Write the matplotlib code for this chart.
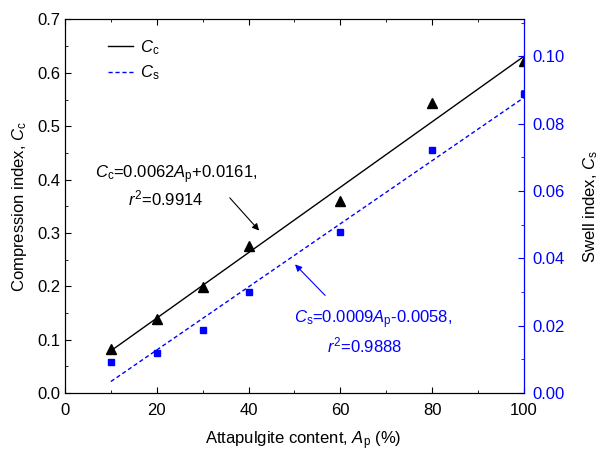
import matplotlib
matplotlib.use("Agg")
import matplotlib.pyplot as plt
from matplotlib.ticker import MultipleLocator

plt.rcParams['font.family'] = ['Liberation Sans', 'DejaVu Sans']
plt.rcParams['font.size'] = 12
plt.rcParams['mathtext.fontset'] = 'custom'
plt.rcParams['mathtext.rm'] = 'Liberation Sans'
plt.rcParams['mathtext.it'] = 'Liberation Sans:italic'

# Data
content = [10, 20, 30, 40, 60, 80, 100]
cc = [0.083, 0.139, 0.199, 0.275, 0.360, 0.544, 0.623]
cs = [0.0092, 0.0120, 0.0187, 0.0300, 0.0478, 0.0723, 0.0888]

# fitted line end points
fit_x = [10, 100]
cc_fit = [0.079, 0.631]
cs_fit = [0.0034, 0.0878]

blue = '#0000FF'

fig, ax = plt.subplots(figsize=(6, 4.53), dpi=100)
fig.subplots_adjust(left=0.1083, right=0.8733, bottom=0.1325, top=0.957)
ax2 = ax.twinx()

ax.plot(fit_x, cc_fit, color='black', lw=1, label=r'$C_\mathrm{c}$')
ax.plot(content, cc, ls='none', marker='^', ms=7, color='black')
ax2.plot(fit_x, cs_fit, color=blue, lw=1, ls=(0, (3, 2)), label=r'$C_\mathrm{s}$')
ax2.plot(content, cs, ls='none', marker='s', ms=5, color=blue)

ax.set_xlim(0, 100)
ax.set_ylim(0, 0.7)
ax2.set_ylim(0, 0.111)

ax.xaxis.set_major_locator(MultipleLocator(20))
ax.xaxis.set_minor_locator(MultipleLocator(10))
ax.yaxis.set_major_locator(MultipleLocator(0.1))
ax.yaxis.set_minor_locator(MultipleLocator(0.05))
ax2.yaxis.set_major_locator(MultipleLocator(0.02))
ax2.yaxis.set_minor_locator(MultipleLocator(0.01))

ax.tick_params(which='both', direction='in', top=True, right=False)
ax.tick_params(which='major', length=4, labelsize=12)
ax.tick_params(axis='x', which='major', pad=7)
ax.tick_params(which='minor', length=2.5)
ax2.tick_params(which='both', direction='in', colors=blue)
ax2.tick_params(which='major', length=4, labelsize=12, pad=6)
ax2.tick_params(which='minor', length=2.5)
ax2.spines['right'].set_color(blue)

ax.set_xlabel(r'Attapulgite content, $A_\mathrm{p}$ (%)')
ax.set_ylabel(r'Compression index, $C_\mathrm{c}$')
ax2.set_ylabel(r'Swell index, $C_\mathrm{s}$', rotation=90, color='black')
ax.xaxis.set_label_coords(0.52, -0.098)
ax.yaxis.set_label_coords(-0.078, 0.5)
ax2.yaxis.set_label_coords(1.125, 0.5)

h1, l1 = ax.get_legend_handles_labels()
h2, l2 = ax2.get_legend_handles_labels()
ax.legend(h1 + h2, l1 + l2, loc='upper left', bbox_to_anchor=(0.06, 0.99),
          frameon=False, handlelength=1.5, handletextpad=0.45, labelspacing=0.4,
          fontsize=12)

# equations and arrows
ax.text(6.5, 0.403, r'$C_\mathrm{c}$=0.0062$A_\mathrm{p}$+0.0161,', ha='left', va='baseline')
ax.text(13.7, 0.351, r'$r^2$=0.9914', ha='left', va='baseline')
ax.annotate('', xy=(42.7, 0.3005), xytext=(35.5, 0.3696),
            arrowprops=dict(arrowstyle='-|>', color='black', lw=0.8, mutation_scale=10))

ax2.text(49.9, 0.0207, r'$C_\mathrm{s}$=0.0009$A_\mathrm{p}$-0.0058,', ha='left', va='baseline', color=blue)
ax2.text(57.1, 0.0121, r'$r^2$=0.9888', ha='left', va='baseline', color=blue)
ax2.annotate('', xy=(49.7, 0.0388), xytext=(57.1, 0.0284),
             arrowprops=dict(arrowstyle='-|>', color=blue, lw=0.8, mutation_scale=10))

plt.savefig('out.png', dpi=100)
